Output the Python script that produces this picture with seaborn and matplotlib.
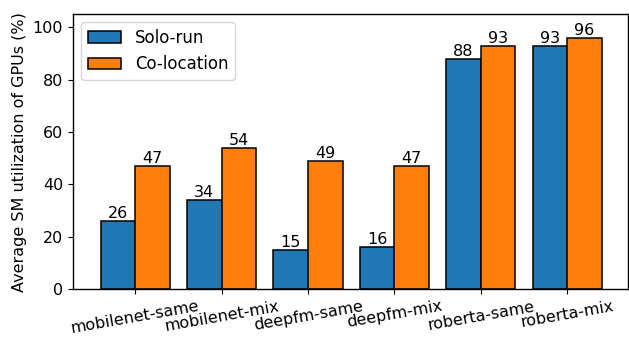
import numpy as np
import pandas as pd
import matplotlib
matplotlib.use('Agg')
import matplotlib.pyplot as plt
import seaborn as sns

categorias = ['mobilenet-same', 'mobilenet-mix', 'deepfm-same', 'deepfm-mix',
              'roberta-same', 'roberta-mix']
solo_run = [26, 34, 15, 16, 88, 93]
co_location = [47, 54, 49, 47, 93, 96]
series = ['Solo-run', 'Co-location']
colores = ['#1f77b4', '#ff7f0e']

df = pd.DataFrame({
    'categoria': categorias * 2,
    'valor': solo_run + co_location,
    'serie': [series[0]] * len(categorias) + [series[1]] * len(categorias),
})

# estilo base de matplotlib, texto en negro
sns.set_style('ticks', rc={'text.color': 'black', 'axes.labelcolor': 'black',
                           'xtick.color': 'black', 'ytick.color': 'black',
                           'axes.edgecolor': 'black'})
plt.rcParams['font.family'] = ['DejaVu Sans']
tam = 11.5

fig = plt.figure(figsize=(6.29, 3.37), dpi=100)
ax = fig.add_axes([0.116, 0.142, 0.882, 0.816])

sns.barplot(data=df, x='categoria', y='valor', hue='serie', palette=colores,
            edgecolor='black', linewidth=1.1, width=0.8, saturation=1, ax=ax,
            errorbar=None)

for cont in ax.containers:
    ax.bar_label(cont, fontsize=tam, padding=0, color='black')

ax.set_ylim(0, 105)
ax.set_xlim(-0.72, 5.7)
ax.set_xlabel('')
ax.set_ylabel('Average SM utilization of GPUs (%)', fontsize=tam)
ax.tick_params(axis='x', labelrotation=10, labelsize=tam)
ax.tick_params(axis='y', labelsize=tam)
for spine in ax.spines.values():
    spine.set_visible(True)
    spine.set_linewidth(1.0)

ax.legend(loc='upper left', fontsize=12, title=None)

fig.savefig('out.png', dpi=100)
